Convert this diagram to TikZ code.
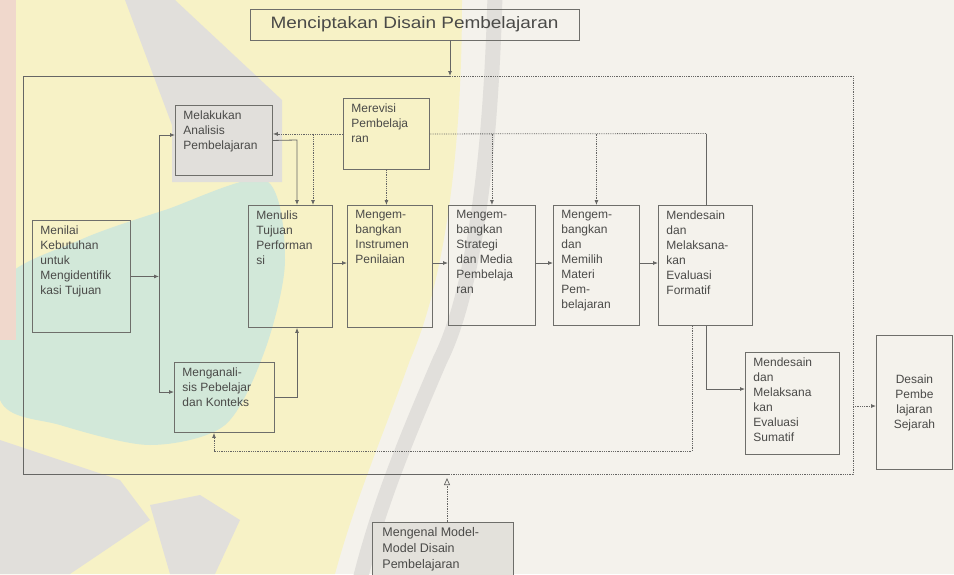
\documentclass[tikz,border=0pt]{standalone}
\usepackage{fontspec}
\setmainfont{Liberation Sans}
\usetikzlibrary{arrows.meta}

\definecolor{bgwhite}{HTML}{F4F2EC}
\definecolor{wmyellow}{HTML}{F7F2C6}
\definecolor{wmteal}{HTML}{D2E8D9}
\definecolor{wmgrey}{HTML}{E1DFDB}
\definecolor{wmpink}{HTML}{F0D8CC}
\definecolor{boxcol}{HTML}{6E6E6A}
\definecolor{linecol}{HTML}{666664}
\definecolor{txtcol}{HTML}{4A4A48}
\definecolor{modfill}{HTML}{E3E1DB}

\newcommand\boxfont{\fontsize{12}{15}\selectfont}
% box with top-left aligned text: name, x, y, width, height, text
\newcommand\stepnode[6]{%
  \node[stepbox] (#1) at (#2,#3)
    {\parbox[c][#5pt][t]{\dimexpr #4pt-16pt\relax}{\raggedright\boxfont\vspace*{5pt}#6}};}

\tikzset{
  stepbox/.style={draw=boxcol, line width=0.9pt, inner xsep=8pt, inner ysep=0pt,
                  anchor=north west, text=txtcol},
  plain/.style={draw=linecol, line width=0.8pt},
  flow/.style={plain, -{Latex[length=5pt,width=4pt]}},
  fb/.style={draw=linecol, line width=0.8pt, densely dotted},
  fbflow/.style={fb, -{Latex[length=5pt,width=4pt]}},
  openflow/.style={draw=linecol, line width=0.7pt, densely dotted,
                   -{Triangle[open,length=7pt,width=6pt]}},
}

\begin{document}
\begin{tikzpicture}[x=1pt,y=-1pt]
\useasboundingbox (0,0) rectangle (954,574);
\clip (0,0) rectangle (954,574);

% background tint
\fill[bgwhite] (0,0) rectangle (954,574);
\fill[wmyellow] (0,0) -- (462,0) .. controls (462,150) and (445,280) .. (410,360)
  .. controls (385,430) and (355,500) .. (335,574) -- (0,574) -- cycle;
\draw[wmgrey, line width=15pt] (495,-5) .. controls (490,180) and (470,300) .. (440,360)
  .. controls (410,430) and (380,500) .. (360,580);
\fill[wmteal] plot[smooth cycle] coordinates
  {(0,285) (80,240) (165,210) (265,180) (285,260) (265,350) (225,425) (150,445) (60,425) (0,400)};
\fill[wmgrey] (125,0) -- (175,0) -- (282,100) -- (282,182) -- (172,182) -- (172,125) -- cycle;
\fill[wmgrey] (0,440) -- (120,480) -- (150,520) -- (70,574) -- (0,574) -- cycle;
\fill[wmgrey] (150,505) -- (200,495) -- (240,520) -- (215,574) -- (170,574) -- cycle;
\fill[wmpink] (0,0) rectangle (16,340);

% title box
\node[draw=boxcol, line width=0.9pt, minimum width=329pt, minimum height=31pt,
      inner sep=0pt, text=txtcol] (mc) at (414.5,24.5)
  {\scalebox{1.15}[1]{\fontsize{16.5}{18}\selectfont Menciptakan Disain Pembelajaran}};

% steps
\stepnode{nil}{32}{220}{98}{112}{Menilai\\Kebutuhan\\untuk\\Mengidentifik\\kasi Tujuan}
\stepnode{ana}{175}{105}{97}{70}{Melakukan\\Analisis\\Pembelajaran}
\stepnode{rev}{343}{98}{86}{71}{Merevisi\\Pembelaja\\ran}
\stepnode{tuj}{248}{205}{84}{122}{Menulis\\Tujuan\\Performan\\si}
\stepnode{ins}{347}{205}{85}{122}{Mengem-\\bangkan\\Instrumen\\Penilaian}
\stepnode{str}{448}{205}{87}{120}{Mengem-\\bangkan\\Strategi\\dan Media\\Pembelaja\\ran}
\stepnode{mat}{553}{205}{86}{120}{Mengem-\\bangkan\\dan\\Memilih\\Materi\\Pem-\\belajaran}
\stepnode{for}{658}{205}{94}{120}{Mendesain\\dan\\Melaksana-\\kan\\Evaluasi\\Formatif}
\stepnode{kon}{174}{362}{100}{70}{Menganali-\\sis Pebelajar\\dan Konteks}
\stepnode{sum}{745}{352}{94}{102}{Mendesain\\dan\\Melaksana\\kan\\Evaluasi\\Sumatif}
\node[stepbox, inner sep=0pt, minimum width=76pt, minimum height=134pt,
      align=center, font=\boxfont] (des) at (876,335) {Desain\\Pembe\\lajaran\\Sejarah};
\node[stepbox, fill=modfill, inner sep=0pt] (mod) at (372,522)
  {\parbox[c][70pt][t]{141pt}{\raggedright\fontsize{12.5}{16}\selectfont
   \vspace*{5pt}\hspace*{10pt}Mengenal Model-\\\hspace*{10pt}Model Disain\\\hspace*{10pt}Pembelajaran}};

% frame around the design steps
\coordinate (fTL) at (23,76);
\coordinate (fTR) at (853,76);
\coordinate (fBL) at (23,474);
\coordinate (fBR) at (853,474);
\coordinate (ftop) at (450,76);
\coordinate (fbm) at (450,474);
\draw[plain, line width=0.7pt] (ftop) -- (fTL) -- (fBL) -- (fbm);
\draw[fb, line width=0.7pt] (ftop) -- (fTR) -- (fBR) -- (fbm);

% into and out of the frame
\draw[flow] (mc.south -| ftop) -- (ftop);
\coordinate (fbot) at (447,478);
\draw[openflow] (mod.north -| fbot) -- (fbot);
\coordinate (j7) at (853,406);
\draw[fbflow] (j7) -- (j7 -| des.west);

% spine from needs assessment
\coordinate (spT) at (159,135);
\coordinate (spB) at (159,392);
\draw[plain] (spT) -- (spB);
\draw[flow] (nil.east) -- (nil.east -| spT);
\draw[flow] (spT) -- (spT -| ana.west);
\draw[flow] (spB) -- (spB -| kon.west);

% analyses into objectives
\coordinate (j1) at (297,140);
\draw[flow] (ana.east) -- (j1) -- (j1 |- tuj.north);
\draw[flow] (kon.east) -- (kon.east -| j1) -- (j1 |- tuj.south);

% main sequence
\coordinate (mid) at (0,263);
\draw[flow] (tuj.east |- mid) -- (ins.west |- mid);
\draw[flow] (ins.east |- mid) -- (str.west |- mid);
\draw[flow] (str.east |- mid) -- (mat.west |- mid);
\draw[flow] (mat.east |- mid) -- (for.west |- mid);

% formative to summative
\coordinate (j4) at (706,389);
\draw[flow] (for.south -| j4) -- (j4) -- (j4 -| sum.west);

% revision feedback
\coordinate (j3) at (706,133.5);
\draw[plain] (for.north -| j3) -- (j3);
\draw[fb] (j3) -- (rev.east);
\draw[fbflow] (rev.west) -- (rev.west -| ana.east);
\coordinate (j2) at (313,133.5);
\draw[fbflow] (j2) -- (j2 |- tuj.north);
\draw[fbflow] (rev.south) -- (rev.south |- ins.north);
\draw[fbflow] (str.north |- j3) -- (str.north);
\draw[fbflow] (mat.north |- j3) -- (mat.north);

% loop back to learner analysis
\coordinate (j5) at (692,451);
\coordinate (j6) at (214,451);
\draw[fbflow] (for.south -| j5) -- (j5) -- (j6) -- (j6 |- kon.south);
\end{tikzpicture}
\end{document}
